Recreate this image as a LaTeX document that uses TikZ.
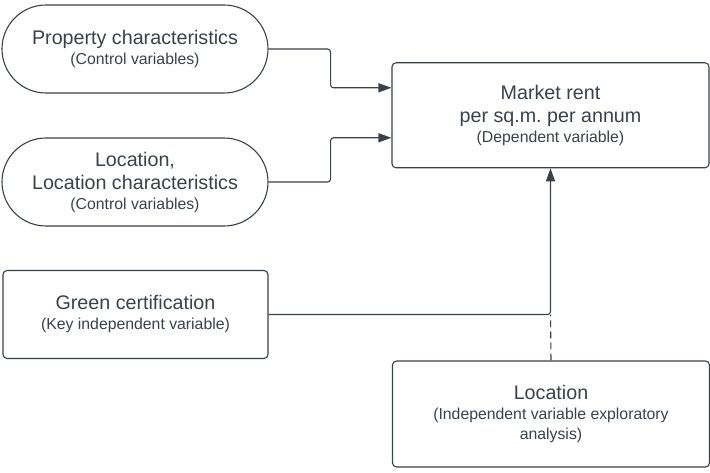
\documentclass[tikz,border=0pt]{standalone}
\usepackage{fontspec}
\setmainfont{Liberation Sans}
\usetikzlibrary{arrows.meta,calc}
\definecolor{chartgray}{RGB}{58,65,74}
\newcommand{\bigtxt}{\fontsize{19.7}{23}\selectfont}
\newcommand{\smalltxt}{\fontsize{15.8}{20}\selectfont}
\frenchspacing

\begin{document}
\begin{tikzpicture}[x=1pt,y=1pt,>={Triangle[length=13pt,width=9pt]},
  every node/.style={text=chartgray,font=\smalltxt},
  oval/.style={draw=chartgray,line width=1.1pt,rounded corners=44pt,
    minimum width=266pt,minimum height=88pt,align=center,inner sep=0pt},
  card/.style={draw=chartgray,line width=1.1pt,rounded corners=4pt,
    align=center,inner sep=0pt},
  link/.style={draw=chartgray,line width=1.1pt,rounded corners=3pt}]
  \useasboundingbox (0,0) rectangle (710,472);
  \node[oval] (prop) at (135,423)
    {\bigtxt Property characteristics\\ (Control variables)};
  \node[oval] (locc) at (135,290)
    {\bigtxt Location,\\[3pt] \bigtxt Location characteristics\\ (Control variables)};
  \node[card,minimum width=265pt,minimum height=88pt] (green) at (135.5,157.5)
    {\bigtxt Green certification\\ (Key independent variable)};
  \node[card,minimum width=317pt,minimum height=105pt] (rent) at (550.5,356.7)
    {\bigtxt Market rent\\[3pt] \bigtxt per sq.m. per annum\\ (Dependent variable)};
  \node[card,minimum width=317pt,minimum height=106pt] (loc) at (551,58)
    {\bigtxt Location\\ (Independent variable exploratory\\ analysis)};

  \draw[link,->] (prop.east) -- ++(62,0) |- ($(rent.west)+(0,27.5)$);
  \draw[link,->] (locc.east) -- ++(62,0) |- ($(rent.west)+(0,-22.5)$);
  \draw[link,->] (green.east) -| (rent.south);
  \coordinate (join) at (rent.south |- green.east);
  \draw[link,dash pattern=on 7pt off 4pt] (loc.north) -- (join);
\end{tikzpicture}
\end{document}
